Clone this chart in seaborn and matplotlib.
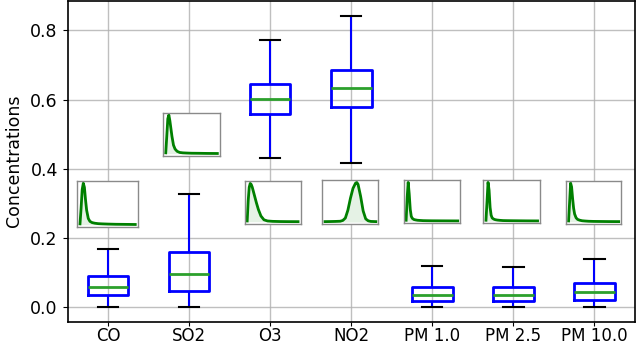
import numpy as np
import pandas as pd
import matplotlib
matplotlib.use("Agg")
import matplotlib.pyplot as plt
import seaborn as sns

# ---- data ----
categories = ["CO", "SO2", "O3", "NO2", "PM 1.0", "PM 2.5", "PM 10.0"]
# five-number summaries: min, Q1, median, Q3, max
box_min = [0.0, 0.0, 0.432, 0.416, 0.0, 0.0, 0.0]
box_q1 = [0.034, 0.045, 0.559, 0.578, 0.016, 0.016, 0.021]
box_med = [0.058, 0.094, 0.601, 0.632, 0.036, 0.035, 0.042]
box_q3 = [0.0895, 0.159, 0.645, 0.684, 0.058, 0.057, 0.069]
box_max = [0.168, 0.328, 0.773, 0.843, 0.119, 0.116, 0.140]

# density curve shapes (normalised) for the inset panels
x_skew = [0, 0.02, 0.04, 0.06, 0.08, 0.10, 0.12, 0.15, 0.18, 0.22, 0.27, 0.33, 0.4, 0.5, 0.65, 0.8, 1.0]
dens_co = [0.02, 0.4, 0.85, 1.0, 0.9, 0.6, 0.35, 0.15, 0.08, 0.05, 0.035, 0.025, 0.02, 0.015, 0.01, 0.008, 0.005]
dens_so2 = [0.02, 0.45, 0.9, 1.0, 0.85, 0.65, 0.45, 0.22, 0.12, 0.06, 0.03, 0.02, 0.015, 0.01, 0.008, 0.005, 0.003]
dens_o3 = [0.02, 0.55, 0.9, 1.0, 0.97, 0.9, 0.8, 0.65, 0.5, 0.32, 0.15, 0.05, 0.02, 0.01, 0.005, 0.003, 0.002]
dens_pm1 = [0.02, 0.6, 1.0, 0.7, 0.3, 0.12, 0.07, 0.04, 0.03, 0.02, 0.015, 0.01, 0.008, 0.006, 0.005, 0.004, 0.003]
dens_pm25 = [0.02, 0.5, 1.0, 0.8, 0.35, 0.15, 0.08, 0.05, 0.035, 0.025, 0.018, 0.012, 0.01, 0.008, 0.006, 0.004, 0.003]
dens_pm10 = [0.02, 0.5, 1.0, 0.9, 0.6, 0.35, 0.2, 0.1, 0.06, 0.04, 0.025, 0.018, 0.012, 0.008, 0.006, 0.004, 0.003]
x_no2 = [0, 0.1, 0.2, 0.3, 0.35, 0.4, 0.45, 0.5, 0.55, 0.6, 0.625, 0.65, 0.7, 0.75, 0.8, 0.85, 0.9, 1.0]
dens_no2 = [0.01, 0.012, 0.015, 0.02, 0.04, 0.1, 0.3, 0.6, 0.85, 0.98, 1.0, 0.95, 0.65, 0.28, 0.08, 0.03, 0.015, 0.01]

inset_curves = [
    (x_skew, dens_co), (x_skew, dens_so2), (x_skew, dens_o3), (x_no2, dens_no2),
    (x_skew, dens_pm1), (x_skew, dens_pm25), (x_skew, dens_pm10),
]

# ---- build long-form table ----
rows = []
for i, c in enumerate(categories):
    for v in (box_min[i], box_q1[i], box_med[i], box_q3[i], box_max[i]):
        rows.append({"pollutant": c, "value": v})
df = pd.DataFrame(rows)

plt.rcParams["font.family"] = ["DejaVu Sans"]
fig = plt.figure(figsize=(6.38, 3.46), dpi=100)
ax = fig.add_axes([67.5 / 638, 24.5 / 346, 567.5 / 638, 320.5 / 346])

sns.boxplot(
    data=df, x="pollutant", y="value", order=categories, ax=ax,
    width=0.5, whis=(0, 100), showfliers=False, fill=False, color="blue",
    boxprops=dict(color="blue", linewidth=2),
    whiskerprops=dict(color="blue", linewidth=1.5),
    capprops=dict(color="black", linewidth=1.5),
    medianprops=dict(color="#2ca02c", linewidth=2),
)
ax.grid(True, color="#b0b0b0", linewidth=1, alpha=0.8)
ax.set_axisbelow(True)
ax.set_xlabel("")
ax.set_ylabel("Concentrations", fontsize=12.5, labelpad=5)
ax.set_yticks([0.0, 0.2, 0.4, 0.6, 0.8])
ax.tick_params(axis="y", labelsize=12.5)
ax.tick_params(axis="x", labelsize=12, pad=1, length=3)
ax.set_ylim(-0.042, 0.885)
ax.set_xlim(-0.5, 6.5)
for s in ax.spines.values():
    s.set_color("black")
    s.set_linewidth(1.2)

# inset positions (data coords): x-center, width, bottom, height
inset_boxes = [
    (-0.005, 0.75, 0.232, 0.132),
    (1.03, 0.70, 0.438, 0.123),
    (2.03, 0.69, 0.241, 0.122),
    (2.99, 0.69, 0.240, 0.126),
    (3.995, 0.70, 0.243, 0.123),
    (4.98, 0.70, 0.243, 0.123),
    (5.99, 0.68, 0.241, 0.123),
]
for (cx, w, b, h), (xs, ys) in zip(inset_boxes, inset_curves):
    iax = ax.inset_axes([cx - w / 2, b, w, h], transform=ax.transData)
    sns.lineplot(x=xs, y=ys, ax=iax, color="green", linewidth=2)
    iax.fill_between(xs, ys, color="green", alpha=0.1, linewidth=0)
    iax.set_xticks([])
    iax.set_yticks([])
    iax.set_xlabel("")
    iax.set_ylabel("")
    for s in iax.spines.values():
        s.set_color("#8a8a8a")
        s.set_linewidth(1.0)

fig.savefig("out.png", dpi=100)
